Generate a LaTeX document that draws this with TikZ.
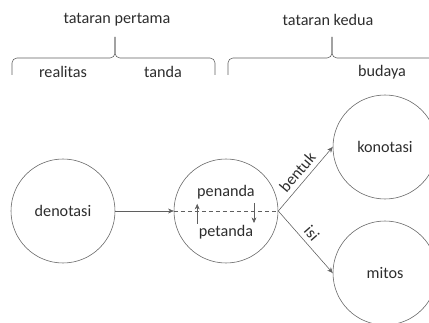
\documentclass[tikz,border=0pt]{standalone}
\usepackage{fontspec}
\setmainfont{Carlito}
\usetikzlibrary{arrows.meta, positioning, calc}
\definecolor{garis}{RGB}{95, 95, 95}
\definecolor{teks}{RGB}{45, 45, 45}

\begin{document}
\begin{tikzpicture}[
        lingkaran/.style={circle, draw=garis, minimum size=2.6cm, inner sep=0pt,
            font=\fontsize{11.5}{14}\selectfont, text=teks},
        panah/.style={-{Stealth[length=4pt, width=3.5pt]}, draw=garis},
        tulisan/.style={font=\fontsize{11.5}{14}\selectfont, text=teks},
        kurung/.style={draw=garis, rounded corners=3.5pt}
    ]
    \useasboundingbox (0,0) rectangle (10.725,8.075);
    \clip (0,0) rectangle (10.725,8.075);

    % Level headings
    \node[tulisan] (pertama) at (2.925,7.575) {tataran pertama};
    \node[tulisan] (kedua) at (8.2,7.575) {tataran kedua};

    % Braces
    \draw[kurung] (0.3,6.2) -- (0.3,6.625) -- (2.875,6.625) -- (2.875,7.15);
    \draw[kurung] (5.375,6.2) -- (5.375,6.625) -- (2.875,6.625) -- (2.875,7.15);
    \draw[kurung] (5.7,6.2) -- (5.7,6.625) -- (8.3,6.625) -- (8.3,7.15);
    \draw[kurung] (11.0,6.2) -- (11.0,6.625) -- (8.3,6.625) -- (8.3,7.15);

    % Sub labels
    \node[tulisan] (realitas) at (1.575,6.275) {realitas};
    \node[tulisan] (tandaL) at (4.075,6.275) {tanda};
    \node[tulisan] (budaya) at (9.55,6.275) {budaya};

    % Circles
    \node[lingkaran] (denotasi) at (1.575,2.8) {denotasi};
    \node[lingkaran] (tanda) at (5.65,2.8) {};
    \node[lingkaran] (konotasi) at (9.625,4.4) {konotasi};
    \node[lingkaran] (mitos) at (9.625,1.25) {mitos};

    % Inside the sign
    \node[tulisan] (penanda) at ([yshift=0.475cm]tanda.center) {penanda};
    \node[tulisan] (petanda) at ([yshift=-0.525cm]tanda.center) {petanda};
    \draw[garis, dash pattern=on 3pt off 2pt] (tanda.west) -- (tanda.east);
    \draw[panah] ([shift={(-0.72,-0.32)}]tanda.center) -- ++(0,0.5);
    \draw[panah] ([shift={(0.7,0.2)}]tanda.center) -- ++(0,-0.5);

    % Connectors
    \draw[panah] (denotasi) -- (tanda);
    \draw[panah] (tanda.east) -- node[tulisan, sloped, above, pos=0.5] {bentuk} (konotasi.west);
    \draw[panah] (tanda.east) -- node[tulisan, sloped, above, pos=0.47] {isi} (mitos.west);
\end{tikzpicture}
\end{document}
